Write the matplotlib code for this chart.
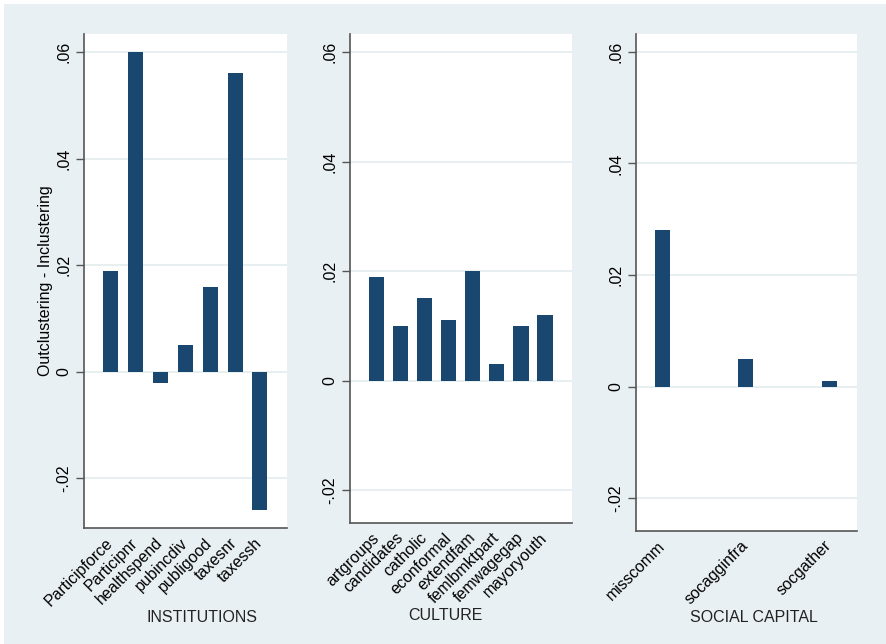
import matplotlib
matplotlib.use("Agg")
import matplotlib.pyplot as plt
from matplotlib.patches import Rectangle

plt.rcParams['font.family'] = ['Liberation Sans', 'DejaVu Sans']

# Outclustering minus inclustering, by block of variables
inst_names = ["Participforce", "Participnr", "healthspend", "pubincdiv",
              "publigood", "taxesnr", "taxessh"]
inst_vals = [0.019, 0.060, -0.002, 0.005, 0.016, 0.056, -0.026]

cult_names = ["artgroups", "candidates", "catholic", "econformal",
              "extendfam", "femlbmktpart", "femwagegap", "mayoryouth"]
cult_vals = [0.019, 0.010, 0.015, 0.011, 0.020, 0.003, 0.010, 0.012]

soc_names = ["misscomm", "socagginfra", "socgather"]
soc_vals = [0.028, 0.005, 0.001]

yticks = [-0.02, 0, 0.02, 0.04, 0.06]
ytick_labels = ["-.02", "0", ".02", ".04", ".06"]

bar_color = "#1a476f"
bg_color = "#e9f0f3"
grid_color = "#e4ecef"
axis_color = "#555555"
fs = 11.5

fig = plt.figure(figsize=(8.86, 6.44), dpi=100)
fig.patch.set_facecolor(bg_color)
# thin white margin at the top and left edges
fig.add_artist(Rectangle((0, 1 - 4 / 644), 1, 4 / 644, transform=fig.transFigure,
                         facecolor="white", edgecolor="none"))
fig.add_artist(Rectangle((0, 0), 4 / 886, 1, transform=fig.transFigure,
                         facecolor="white", edgecolor="none"))

panels = [
    # names, values, axes rect, ylim, xlim, bar width, title, title x
    (inst_names, inst_vals, [84 / 886, 1 - 528 / 644, 203 / 886, 494 / 644],
     (-0.0293, 0.0634), (-1.04, 7.08), 0.6, "INSTITUTIONS", 0.581, 618),
    (cult_names, cult_vals, [350 / 886, 1 - 523 / 644, 222 / 886, 489 / 644],
     (-0.026, 0.0633), (-1.1, 8.12), 0.63, "CULTURE", 0.432, 616),
    (soc_names, soc_vals, [636 / 886, 1 - 531 / 644, 221 / 886, 497 / 644],
     (-0.0259, 0.0632), (-0.317, 2.33), 0.18, "SOCIAL CAPITAL", 0.534, 618),
]

for names, vals, rect, ylim, xlim, width, title, tx, ty in panels:
    ax = fig.add_axes(rect)
    ax.set_facecolor("white")
    x = list(range(len(names)))
    ax.bar(x, vals, width=width, color=bar_color, zorder=3)
    ax.set_xlim(*xlim)
    ax.set_ylim(*ylim)
    ax.set_yticks(yticks)
    ax.set_yticklabels(ytick_labels, fontsize=fs, rotation=90, va="center")
    ax.yaxis.grid(True, color=grid_color, lw=1.2, zorder=0)
    ax.set_xticks(x)
    ax.set_xticklabels(names, fontsize=fs, rotation=45, ha="right",
                       va="center", rotation_mode="anchor")
    ax.tick_params(axis="x", length=0, pad=9)
    ax.tick_params(axis="y", length=6, width=1, color=axis_color, pad=3)
    for side in ["top", "right"]:
        ax.spines[side].set_visible(False)
    for side in ["left", "bottom"]:
        ax.spines[side].set_color(axis_color)
        ax.spines[side].set_linewidth(1.2)
    # axis title placed below the rotated labels
    bottom_px = (1 - rect[1]) * 644
    top_px = bottom_px - rect[3] * 644
    ty_ax = (bottom_px - ty) / (bottom_px - top_px)
    ax.text(tx, ty_ax, title, transform=ax.transAxes, ha="center",
            va="center", fontsize=fs, color="#222222")
    if title == "INSTITUTIONS":
        ax.text(-0.19, 0.5, "Outclustering - Inclustering", transform=ax.transAxes,
                rotation=90, ha="center", va="center", fontsize=fs)

fig.savefig("out.png", dpi=100, facecolor=fig.get_facecolor())
